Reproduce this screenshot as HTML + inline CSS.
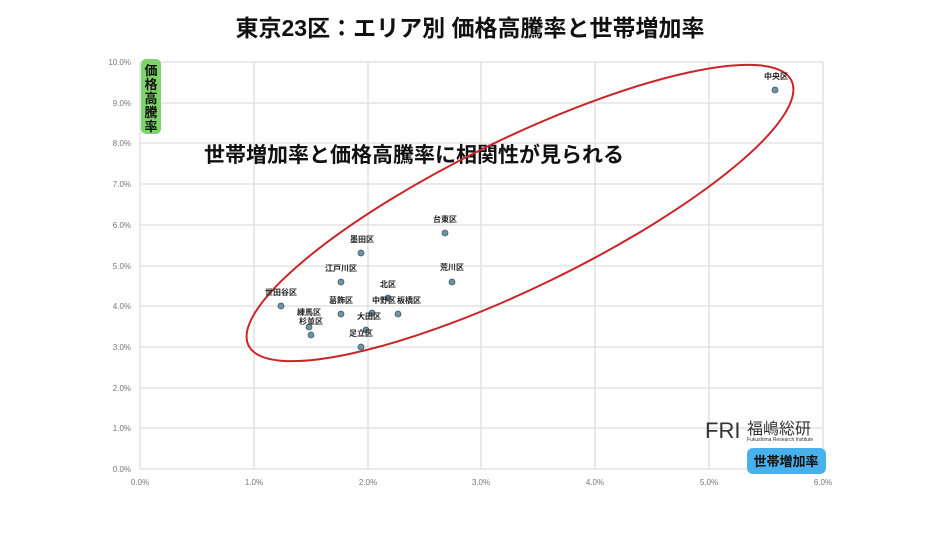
<!DOCTYPE html>
<html><head><meta charset="utf-8"><style>
body{margin:0;background:#fff;width:940px;height:529px;overflow:hidden;font-family:"Liberation Sans","Noto Sans CJK JP",sans-serif;}
</style></head><body>
<svg width="940" height="529" xmlns="http://www.w3.org/2000/svg" font-family="Liberation Sans, Noto Sans CJK JP, sans-serif">
<text x="470" y="36" text-anchor="middle" font-size="23" font-weight="bold" fill="#111">東京23区：エリア別 価格高騰率と世帯増加率</text>
<g stroke="#dddddd" stroke-width="1.3">
<line x1="140" y1="62" x2="823" y2="62"/><line x1="140" y1="103" x2="823" y2="103"/><line x1="140" y1="143" x2="823" y2="143"/><line x1="140" y1="184" x2="823" y2="184"/><line x1="140" y1="225" x2="823" y2="225"/><line x1="140" y1="266" x2="823" y2="266"/><line x1="140" y1="306" x2="823" y2="306"/><line x1="140" y1="347" x2="823" y2="347"/><line x1="140" y1="388" x2="823" y2="388"/><line x1="140" y1="428" x2="823" y2="428"/><line x1="140" y1="469" x2="823" y2="469"/>
<line x1="140" y1="62" x2="140" y2="469"/><line x1="254" y1="62" x2="254" y2="469"/><line x1="368" y1="62" x2="368" y2="469"/><line x1="481" y1="62" x2="481" y2="469"/><line x1="595" y1="62" x2="595" y2="469"/><line x1="709" y1="62" x2="709" y2="469"/><line x1="823" y1="62" x2="823" y2="469"/>
</g>
<g font-size="8" fill="#777" text-anchor="end">
<text x="131" y="65">10.0%</text><text x="131" y="106">9.0%</text><text x="131" y="146">8.0%</text><text x="131" y="187">7.0%</text><text x="131" y="228">6.0%</text><text x="131" y="269">5.0%</text><text x="131" y="309">4.0%</text><text x="131" y="350">3.0%</text><text x="131" y="391">2.0%</text><text x="131" y="431">1.0%</text><text x="131" y="472">0.0%</text>
</g>
<g font-size="8" fill="#777" text-anchor="middle">
<text x="140" y="485">0.0%</text><text x="254" y="485">1.0%</text><text x="368" y="485">2.0%</text><text x="481" y="485">3.0%</text><text x="595" y="485">4.0%</text><text x="709" y="485">5.0%</text><text x="823" y="485">6.0%</text>
</g>
<rect x="141" y="59" width="20" height="75" rx="5" fill="#7ed36a"/>
<g font-size="13" font-weight="bold" fill="#111" text-anchor="middle"><text x="151" y="75">価</text><text x="151" y="89">格</text><text x="151" y="103">高</text><text x="151" y="117">騰</text><text x="151" y="131">率</text></g>
<rect x="747" y="448" width="79" height="26" rx="6" fill="#48b1ec"/>
<text x="786" y="466" font-size="13" font-weight="bold" fill="#111" text-anchor="middle">世帯増加率</text>
<text x="705" y="438" font-size="22" fill="#333">FRI</text>
<text x="747" y="434" font-size="16" fill="#333">福嶋総研</text>
<text x="747" y="441" font-size="5" fill="#333">Fukushima Research Institute</text>
<text x="204" y="162" font-size="21" font-weight="bold" fill="#111">世帯増加率と価格高騰率に相関性が見られる</text>
<ellipse cx="520" cy="213" rx="302" ry="74" transform="rotate(-26 520 213)" fill="none" stroke="#c8262a" stroke-width="2"/>
<g fill="#6f93a5" stroke="#3d5a68" stroke-width="0.8">
<circle cx="775" cy="90" r="3"/><circle cx="445" cy="233" r="3"/><circle cx="361" cy="253" r="3"/><circle cx="341" cy="282" r="3"/><circle cx="452" cy="282" r="3"/><circle cx="281" cy="306" r="3"/><circle cx="341" cy="314" r="3"/><circle cx="398" cy="314" r="3"/><circle cx="388" cy="298" r="3"/><circle cx="372" cy="313" r="3"/><circle cx="309" cy="327" r="3"/><circle cx="311" cy="335" r="3"/><circle cx="361" cy="347" r="3"/><circle cx="366" cy="330" r="3"/>
</g>
<g font-size="8" font-weight="bold" fill="#222" text-anchor="middle">
<text x="776" y="79">中央区</text><text x="445" y="222">台東区</text><text x="362" y="242">墨田区</text><text x="341" y="271">江戸川区</text><text x="452" y="270">荒川区</text><text x="388" y="287">北区</text><text x="281" y="295">世田谷区</text><text x="341" y="303">葛飾区</text><text x="384" y="303">中野区</text><text x="409" y="303">板橋区</text><text x="309" y="315">練馬区</text><text x="311" y="324">杉並区</text><text x="369" y="319">大田区</text><text x="361" y="336">足立区</text>
</g>
</svg>
</body></html>
